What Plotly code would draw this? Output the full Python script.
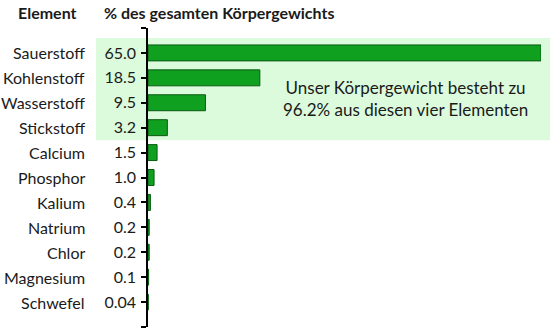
import plotly.graph_objects as go

elements = ["Sauerstoff", "Kohlenstoff", "Wasserstoff", "Stickstoff", "Calcium", "Phosphor",
            "Kalium", "Natrium", "Chlor", "Magnesium", "Schwefel"]
values = [65.0, 18.5, 9.5, 3.2, 1.5, 1.0, 0.4, 0.2, 0.2, 0.1, 0.04]
value_labels = ["65.0", "18.5", "9.5", "3.2", "1.5", "1.0", "0.4", "0.2", "0.2", "0.1", "0.04"]
header_element = "Element"
header_value = "% des gesamten Körpergewichts"
note = "Unser Körpergewicht besteht zu<br>96.2% aus diesen vier Elementen"

FONT = "Lato"
L, R, T, B = 148, 9, 28, 2
W, H = 550, 329
pw = W - L - R

def px(xpix):
    return (xpix - L) / pw

pos = list(range(len(elements)))

fig = go.Figure()
fig.add_trace(go.Bar(
    x=values, y=pos, orientation="h",
    marker=dict(color="#10a020", line=dict(color="#0a5a12", width=1)),
    width=0.64, hoverinfo="skip",
))

tickvals = [-1] + pos + [len(elements)]
ticktext = [""] + value_labels + [""]

fig.update_layout(
    width=W, height=H,
    margin=dict(l=L, r=R, t=T, b=B),
    paper_bgcolor="white", plot_bgcolor="rgba(0,0,0,0)",
    showlegend=False,
    font=dict(family=FONT, size=16, color="#1a1a1a"),
    xaxis=dict(range=[0, 65], visible=False, fixedrange=True),
    yaxis=dict(range=[len(elements), -1], tickvals=tickvals, ticktext=ticktext,
               ticks="outside", ticklen=5, tickwidth=1.5, tickcolor="black",
               showline=True, linecolor="black", linewidth=1.5, showgrid=False,
               zeroline=False, ticklabelstandoff=2,
               tickfont=dict(size=16, family=FONT, color="#1a1a1a")),
)

fig.add_shape(type="rect", xref="paper", yref="y",
              x0=px(96), x1=px(552), y0=-0.6, y1=3.5,
              fillcolor="#dcfadc", line=dict(width=0), layer="below")

for i, name in enumerate(elements):
    fig.add_annotation(x=px(87), xref="paper", y=i, yref="y", text=name,
                       showarrow=False, xanchor="right", yanchor="middle",
                       font=dict(size=16, family=FONT, color="#1a1a1a"))

hy = (H - 12 - B) / (H - T - B)
fig.add_annotation(x=px(79), xref="paper", y=hy, yref="paper",
                   text="<b>" + header_element + "</b>", showarrow=False,
                   xanchor="right", yanchor="middle",
                   font=dict(size=16, family=FONT, color="#1a1a1a"))
fig.add_annotation(x=px(102), xref="paper", y=hy, yref="paper",
                   text="<b>" + header_value + "</b>", showarrow=False,
                   xanchor="left", yanchor="middle",
                   font=dict(size=16, family=FONT, color="#1a1a1a"))

fig.add_annotation(x=px(405), xref="paper", y=1.82, yref="y", text=note,
                   showarrow=False, xanchor="center", yanchor="middle", align="center",
                   font=dict(size=17, family=FONT, color="#1a1a1a"))

fig.write_html("out.html", config={"displayModeBar": False})
